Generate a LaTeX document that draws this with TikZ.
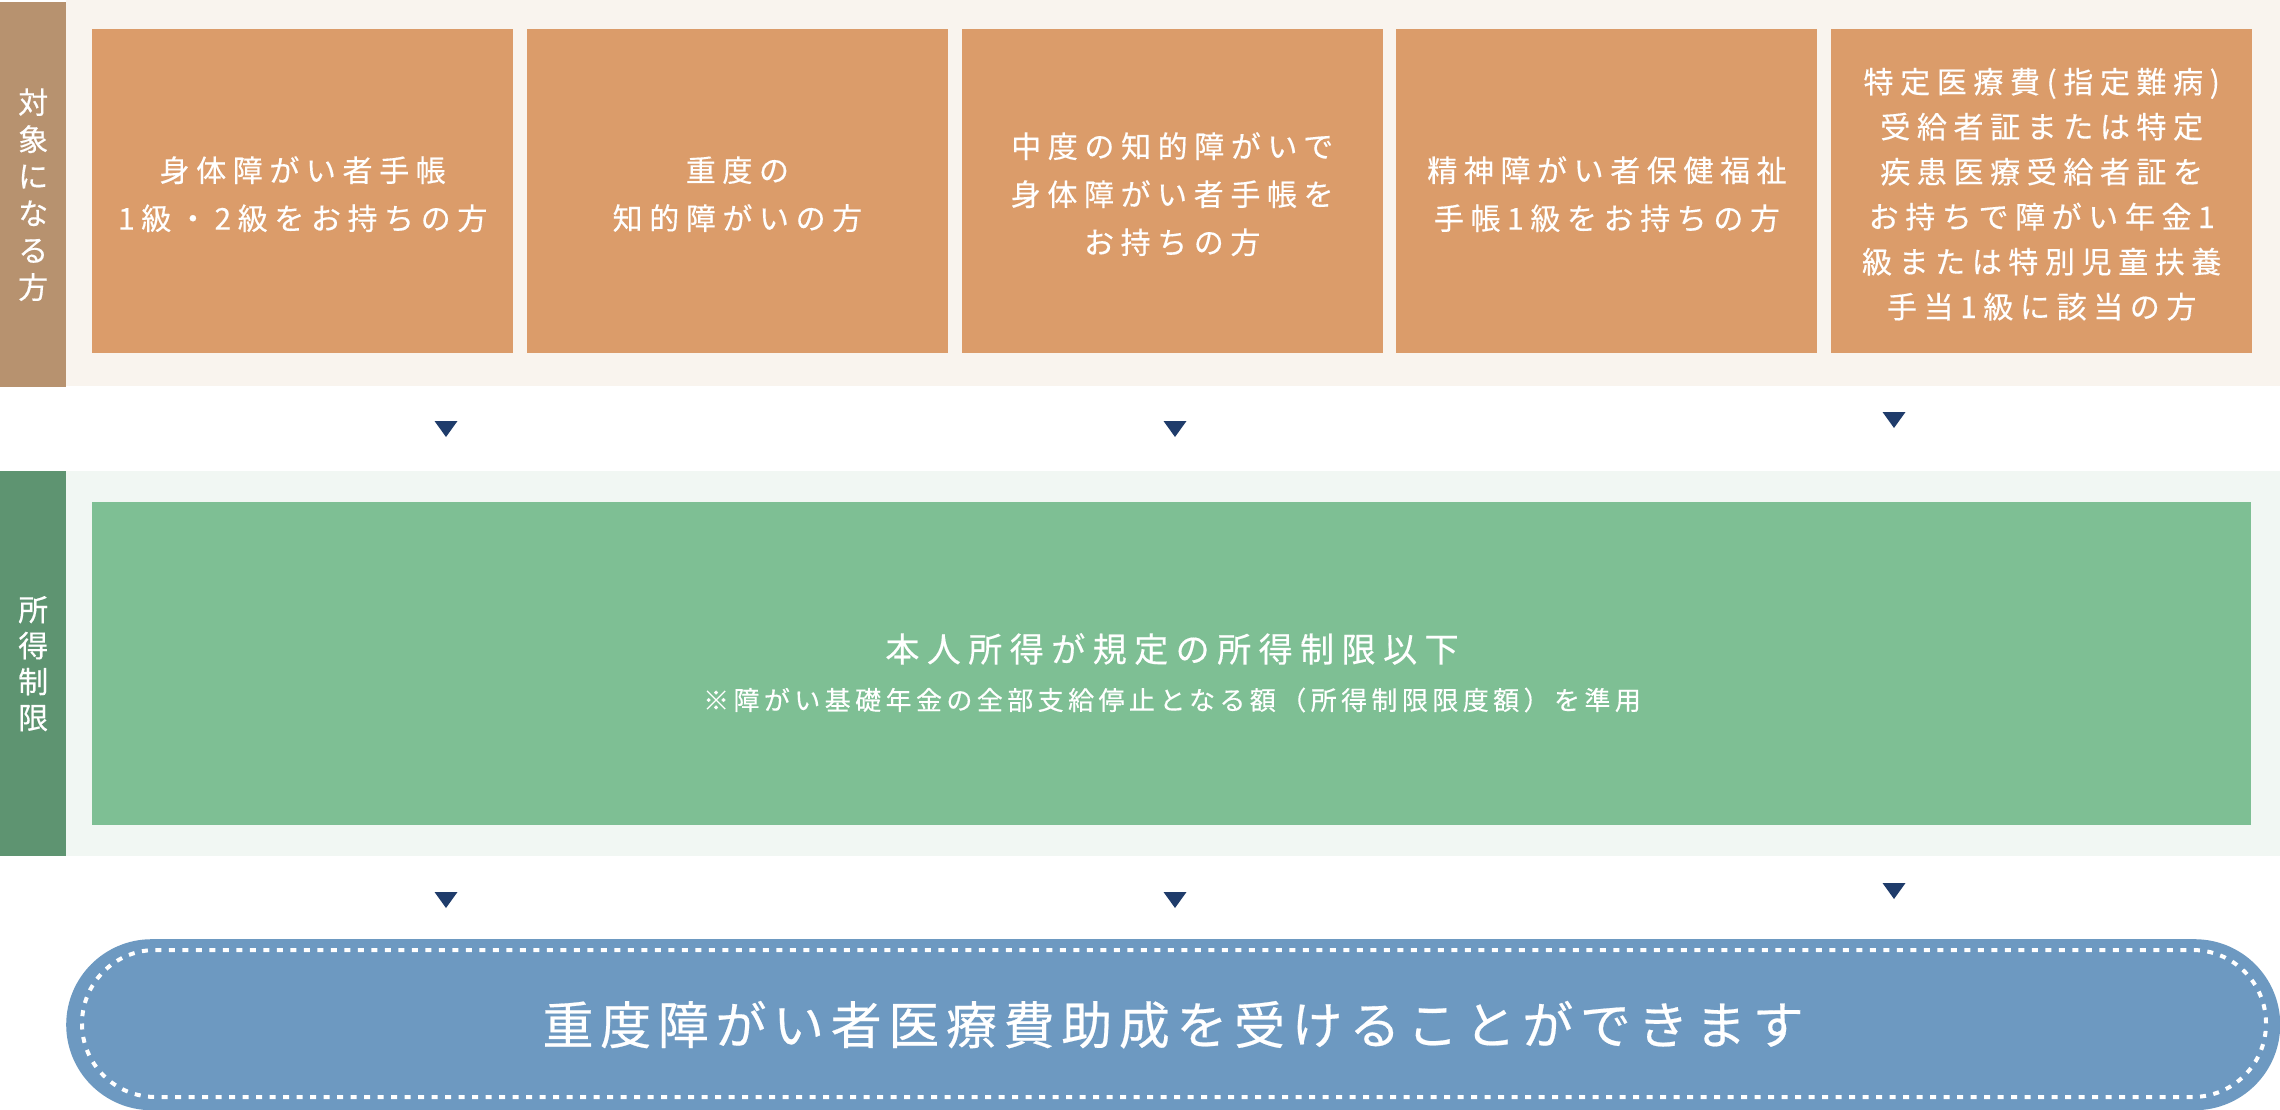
\documentclass[tikz,border=0pt]{standalone}
\usepackage{xcolor}
\usepackage{fontspec}
\newfontfamily\jpside[FakeBold=0.4]{Noto Sans CJK JP}
\newfontfamily\jpbox[LetterSpace=22,FakeBold=0.4]{Noto Sans CJK JP}
\newfontfamily\jpmain[LetterSpace=22,FakeBold=0.4]{Noto Sans CJK JP}
\newfontfamily\jpnote[LetterSpace=17,FakeBold=0.4]{Noto Sans CJK JP}
\newfontfamily\jpbig[LetterSpace=13,FakeBold=0.4]{Noto Sans CJK JP}
\definecolor{sidebrown}{HTML}{B7926F}
\definecolor{bandbeige}{HTML}{F9F4EE}
\definecolor{boxorange}{HTML}{DB9C6A}
\definecolor{sidegreen}{HTML}{5E9471}
\definecolor{bandgreen}{HTML}{F1F7F3}
\definecolor{boxgreen}{HTML}{7EBF94}
\definecolor{arrownavy}{HTML}{1F3C6B}
\definecolor{pillblue}{HTML}{6D99C1}

\begin{document}
\begin{tikzpicture}[x=1pt, y=-1pt,
  panel/.style={anchor=north west, inner sep=0pt, draw=none, fill=#1},
  sidetext/.style={text=white, align=center, font=\jpside\fontsize{30}{37}\selectfont},
  boxtext/.style={text=white, align=center}]
  \useasboundingbox (0,0) rectangle (2280,1110);
  \fill[white] (0,0) rectangle (2280,1110);

  \node[panel=bandbeige, minimum width=2214, minimum height=386] (topband) at (66,0) {};
  \node[panel=sidebrown, minimum width=66, minimum height=385] (topside) at (0,2) {};
  \node[sidetext] (toplabel) at (topside.center) {対\\象\\に\\な\\る\\方};
  \foreach \x/\s/\t [count=\i] in {92/48/{身体障がい者手帳\\1級・2級をお持ちの方},
      526.75/48/{重度の\\知的障がいの方},
      961.5/48/{中度の知的障がいで\\身体障がい者手帳を\\お持ちの方},
      1396.25/48/{精神障がい者保健福祉\\手帳1級をお持ちの方},
      1831/45/{特定医療費(指定難病)\\受給者証または特定\\疾患医療受給者証を\\お持ちで障がい年金1\\級または特別児童扶養\\手当1級に該当の方}}{
    \node[panel=boxorange, minimum width=421, minimum height=324] (c\i) at (\x,29) {};
    \node[boxtext, font=\jpbox\fontsize{30}{\s}\selectfont] (t\i) at ([yshift=-3pt]c\i.center) {\t};
  }

  \node[panel=bandgreen, minimum width=2214, minimum height=385] (midband) at (66,471) {};
  \node[panel=sidegreen, minimum width=66, minimum height=385] (midside) at (0,471) {};
  \node[sidetext, font=\jpside\fontsize{30}{36}\selectfont] (midlabel) at (midside.center) {所\\得\\制\\限};
  \node[panel=boxgreen, minimum width=2159, minimum height=323] (income) at (92,502) {};
  \node[text=white, font=\jpmain\fontsize{34}{40}\selectfont] (incometext) at (1172,649) {本人所得が規定の所得制限以下};
  \node[text=white, font=\jpnote\fontsize{26}{30}\selectfont] (incomenote) at (1172,700) {※障がい基礎年金の全部支給停止となる額（所得制限限度額）を準用};

  \foreach \x/\y in {446/421, 1175/421, 1894/412, 446/892, 1175/892, 1894/883}{
    \fill[arrownavy] (\x-11.5,\y) -- (\x+11.5,\y) -- (\x,\y+16) -- cycle;
  }

  \node[panel=pillblue, rounded corners=85.5, minimum width=2214, minimum height=171] (goal) at (66,939) {};
  \draw[white, line width=4, dash pattern=on 6 off 7.5, rounded corners=73.5] (82,950) rectangle (2266,1097);
  \node[text=white, font=\jpbig\fontsize{51}{60}\selectfont] (goaltext) at (goal.center) {重度障がい者医療費助成を受けることができます};
\end{tikzpicture}
\end{document}
